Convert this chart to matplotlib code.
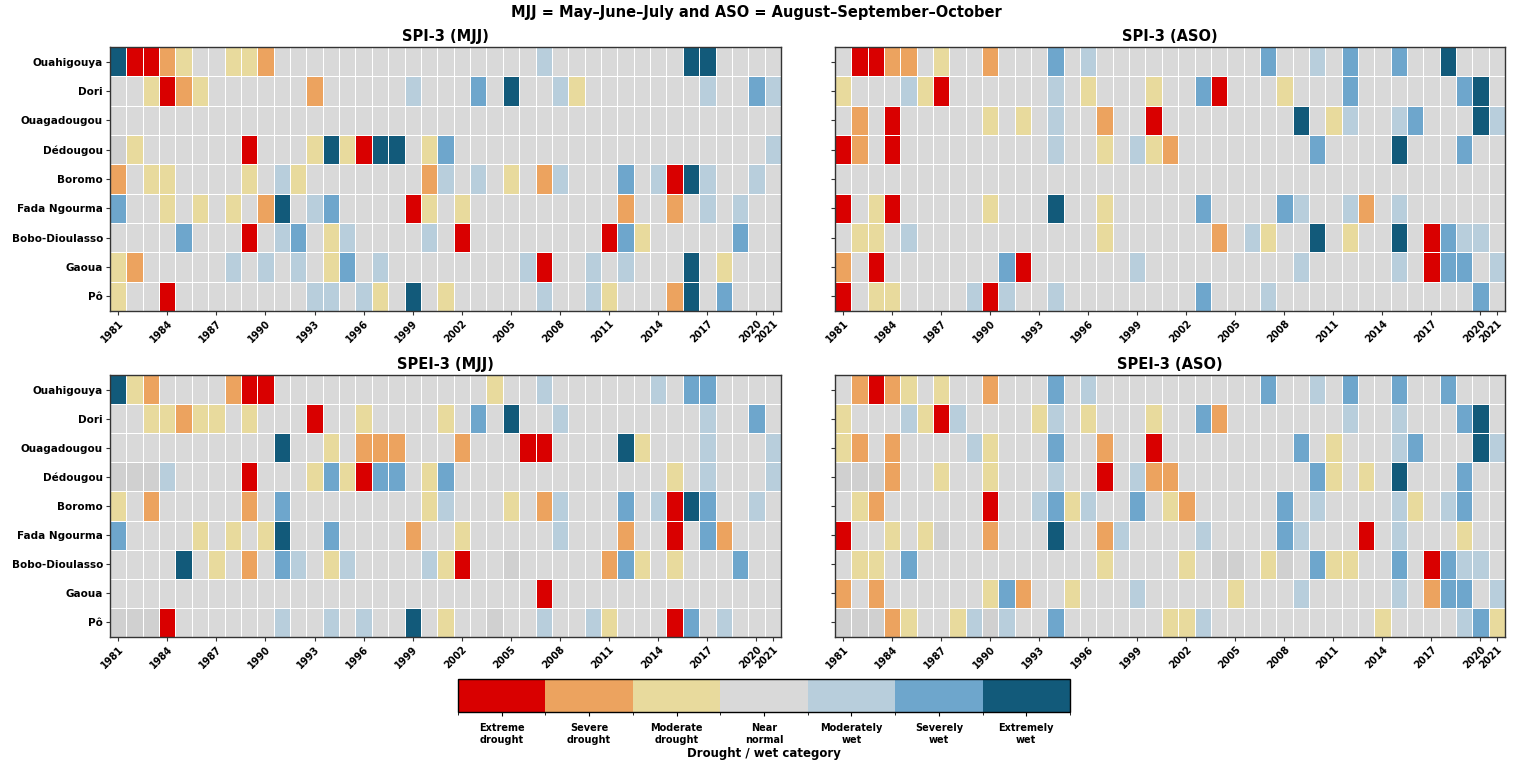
import numpy as np
import matplotlib
matplotlib.use("Agg")
import matplotlib.pyplot as plt
from matplotlib.colors import ListedColormap, BoundaryNorm

# === Data ===
N = np.nan
stations = ["Ouahigouya", "Dori", "Ouagadougou", "Dédougou", "Boromo",
            "Fada Ngourma", "Bobo-Dioulasso", "Gaoua", "Pô"]
years = list(range(1981, 2022))
tick_years = list(range(1981, 2021, 3)) + [2021]

category_labels = ["Extreme\ndrought", "Severe\ndrought", "Moderate\ndrought", "Near\nnormal",
                   "Moderately\nwet", "Severely\nwet", "Extremely\nwet"]
category_colors = ["#d90000", "#eca35f", "#e8da9d", "#d9d9d9", "#b8cedc", "#6ea6cc", "#125a7a"]

# category codes: 0 = extreme drought ... 3 = near normal ... 6 = extremely wet, nan = missing
spi_mjj = [
    [6,0,0,1,2,3,3,2,2,1, 3,3,3,3,3,3,3,3,3,3, 3,3,3,3,3,3,4,3,3,3, 3,3,3,3,3,6,6,3,3,3, 3],
    [3,3,2,0,1,2,3,3,3,3, 3,3,1,3,3,3,3,3,4,3, 3,3,5,3,6,3,3,4,2,3, 3,3,3,3,3,3,4,3,3,5, 4],
    [3,3,3,3,3,3,3,3,3,3, 3,3,3,3,3,3,3,3,3,3, 3,3,3,3,3,3,3,3,3,3, 3,3,3,3,3,3,3,3,3,3, 3],
    [N,2,3,3,3,3,3,3,0,3, 3,3,2,6,2,0,6,6,3,2, 5,3,3,3,3,3,3,3,3,3, 3,3,3,3,3,3,3,3,3,3, 4],
    [1,3,2,2,3,3,3,3,2,3, 4,2,3,3,3,3,3,3,3,1, 4,3,4,3,2,3,1,4,3,3, 3,5,3,4,0,6,4,3,3,4, 3],
    [5,3,3,2,3,2,3,2,3,1, 6,3,4,5,3,3,3,3,0,2, 3,2,3,3,3,3,3,3,3,3, 3,1,3,3,1,3,4,3,4,3, 3],
    [3,3,3,3,5,3,3,3,0,3, 4,5,3,2,4,3,3,3,3,4, 3,0,3,3,3,3,3,3,3,3, 0,5,2,3,3,3,3,3,5,3, 3],
    [2,1,3,3,3,3,3,4,3,4, 3,4,3,2,5,3,4,3,3,3, 3,3,3,3,3,4,0,3,3,4, 3,4,3,3,3,6,3,2,3,3, 3],
    [2,3,3,0,3,3,3,3,3,3, 3,3,4,4,3,4,2,3,6,3, 2,3,3,3,3,3,4,3,3,4, 2,3,3,3,1,6,3,5,3,3, 3],
]
spi_aso = [
    [3,0,0,1,1,3,2,3,3,1, 3,3,3,5,3,4,3,3,3,3, 3,3,3,3,3,3,5,3,3,4, 3,5,3,3,5,3,3,6,3,3, 3],
    [2,3,3,3,4,2,0,3,3,3, 3,3,3,4,3,2,3,3,3,2, 3,3,5,0,3,3,3,2,3,3, 3,5,3,3,3,3,3,3,5,6, 3],
    [3,1,3,0,3,3,3,3,3,2, 3,2,3,4,3,3,1,3,3,0, 3,3,3,3,3,3,3,3,6,3, 2,4,3,3,4,5,3,3,3,6, 4],
    [0,1,3,0,3,3,3,3,3,3, 3,3,3,4,3,3,2,3,4,2, 1,3,3,3,3,3,3,3,3,5, 3,3,3,3,6,3,3,3,5,3, 3],
    [3,3,3,3,3,3,3,3,3,3, 3,3,3,3,3,3,3,3,3,3, 3,3,3,3,3,3,3,3,3,3, 3,3,3,3,3,3,3,3,3,3, 3],
    [0,3,2,0,3,3,3,3,3,2, 3,3,3,6,3,3,2,3,3,3, 3,3,5,3,3,3,3,5,4,3, 3,4,1,3,4,3,3,3,3,3, 3],
    [3,2,2,3,4,3,3,3,3,3, 3,3,3,3,3,3,2,3,3,3, 3,3,3,1,3,4,2,3,3,6, 3,2,3,3,6,3,0,5,4,4, 3],
    [1,3,0,3,3,3,3,3,3,3, 5,0,3,3,3,3,3,3,4,3, 3,3,3,3,3,3,3,3,4,3, 3,3,3,3,4,3,0,5,5,3, 4],
    [0,3,2,2,3,3,3,3,4,0, 4,3,3,4,3,3,3,3,3,3, 3,3,5,3,3,3,4,3,3,3, 3,3,3,3,3,3,3,3,3,5, 3],
]
spei_mjj = [
    [6,2,1,3,3,3,3,1,0,0, 3,3,3,3,3,3,3,3,3,3, 3,3,3,2,3,3,4,3,3,3, 3,3,3,4,3,5,5,3,3,3, 3],
    [3,3,2,2,1,2,2,3,2,3, 3,3,0,3,3,2,3,3,3,3, 2,3,5,3,6,3,3,4,3,3, 3,3,3,3,3,3,4,3,3,5, 3],
    [3,3,3,3,3,3,3,3,3,3, 6,3,3,2,3,1,1,1,3,3, 3,1,3,3,3,0,0,3,3,3, 3,6,2,3,3,3,4,3,3,3, 4],
    [N,N,N,4,3,3,3,3,0,3, 3,3,2,5,2,0,5,5,3,2, 5,3,3,3,3,3,3,3,3,3, 3,3,3,3,2,3,4,3,3,3, 4],
    [2,3,1,3,3,3,3,3,1,3, 5,3,3,3,3,3,3,3,3,2, 4,3,3,3,2,3,1,4,3,3, 3,5,3,4,0,6,5,3,3,4, 3],
    [5,3,3,3,3,2,3,2,3,2, 6,3,3,5,3,3,3,3,1,3, 3,2,3,3,3,3,3,4,3,3, 3,1,3,3,0,3,5,1,3,3, 3],
    [3,3,3,3,6,3,2,3,1,3, 5,4,3,2,4,3,3,3,3,4, 2,0,3,3,N,3,3,3,3,3, 1,5,2,3,2,3,3,3,5,3, 3],
    [3,3,3,3,3,3,3,3,3,3, 3,3,3,3,3,3,3,3,3,3, 3,3,3,3,3,3,0,3,3,3, 3,3,3,3,3,3,3,3,3,3, 3],
    [N,N,N,0,3,3,3,3,3,3, 4,3,3,4,3,4,3,3,6,3, 2,3,3,N,3,3,4,3,3,4, 2,3,3,3,0,5,3,4,3,3, 3],
]
spei_aso = [
    [3,1,0,1,2,3,2,3,3,1, 3,3,3,5,3,4,3,3,3,3, 3,3,3,3,3,3,5,3,3,4, 3,5,3,3,5,3,3,5,3,3, 3],
    [2,3,3,3,4,2,0,4,3,3, 3,3,2,4,3,2,3,3,3,2, 3,3,5,1,3,3,3,3,3,3, 3,4,3,3,4,3,3,3,5,6, 3],
    [2,1,3,1,3,3,3,3,4,2, 3,3,3,5,3,3,1,3,3,0, 3,3,3,3,3,3,3,3,5,3, 2,3,3,3,4,5,3,3,3,6, 4],
    [N,N,N,1,3,3,2,3,3,2, 3,3,3,4,3,3,0,3,4,1, 1,3,3,3,3,3,3,3,3,5, 2,3,2,3,6,3,3,3,5,3, 3],
    [3,2,1,3,3,3,3,3,3,0, 3,3,4,5,2,4,3,3,5,3, 2,1,3,3,3,3,3,5,3,4, 3,3,3,3,4,2,3,4,5,3, 3],
    [0,3,3,2,3,2,N,3,3,1, 3,3,3,6,3,3,1,4,3,3, 3,3,4,3,3,3,3,5,4,3, 3,3,0,3,4,3,3,3,2,3, 3],
    [3,2,2,3,5,3,3,3,3,3, 3,3,3,3,3,3,2,3,3,3, 3,2,3,N,N,3,2,N,3,5, 2,2,3,3,5,3,0,5,4,4, 3],
    [1,3,1,3,3,3,3,3,3,2, 5,1,3,3,2,3,3,3,4,3, 3,3,3,3,2,3,3,3,4,3, 3,3,3,3,4,3,1,5,5,3, 4],
    [N,N,N,1,2,3,3,2,4,N, 4,3,3,5,3,3,3,3,3,3, 2,2,4,3,3,3,3,3,3,3, 3,3,3,2,3,3,3,3,4,5, 2],
]

panels = [("SPI-3 (MJJ)", spi_mjj), ("SPI-3 (ASO)", spi_aso),
          ("SPEI-3 (MJJ)", spei_mjj), ("SPEI-3 (ASO)", spei_aso)]

# === Colormap ===
cmap = ListedColormap(category_colors)
cmap.set_bad("#d0d0d0")
norm = BoundaryNorm(np.arange(-0.5, 7.5, 1), cmap.N)

# === Figure ===
fig = plt.figure(figsize=(15.13, 7.65), dpi=100)
positions = [
    [0.0727, 0.5935, 0.4435, 0.3451],
    [0.5519, 0.5935, 0.4428, 0.3451],
    [0.0727, 0.1673, 0.4435, 0.3425],
    [0.5519, 0.1673, 0.4428, 0.3425],
]

x_edges = np.arange(len(years) + 1) - 0.5
y_edges = np.arange(len(stations) + 1) - 0.5
tick_pos = [years.index(y) for y in tick_years]

mesh = None
for i, (title, data) in enumerate(panels):
    ax = fig.add_axes(positions[i])
    vals = np.ma.masked_invalid(np.array(data, dtype=float))
    mesh = ax.pcolormesh(x_edges, y_edges, vals, cmap=cmap, norm=norm,
                         edgecolors="white", linewidth=0.5)
    ax.set_xlim(-0.5, len(years) - 0.5)
    ax.set_ylim(len(stations) - 0.5, -0.5)
    ax.set_title(title, fontsize=10.5, fontweight="bold", pad=4)
    ax.set_xticks(tick_pos)
    ax.set_xticklabels([str(y) for y in tick_years], rotation=45, ha="right",
                       rotation_mode="anchor", fontsize=7, fontweight="bold")
    ax.set_yticks(range(len(stations)))
    if i % 2 == 0:
        ax.set_yticklabels(stations, fontsize=7.5, fontweight="bold")
    else:
        ax.set_yticklabels([])
    ax.tick_params(length=3, width=0.8, color="#333333", pad=2)
    for s in ax.spines.values():
        s.set_color("#333333")
        s.set_linewidth(1.0)

fig.suptitle("MJJ = May–June–July and ASO = August–September–October",
             fontsize=10.5, fontweight="bold", y=0.993)

# === Colorbar ===
cax = fig.add_axes([0.3027, 0.0693, 0.4045, 0.0431])
cb = fig.colorbar(mesh, cax=cax, orientation="horizontal", ticks=range(7))
cb.ax.set_xticklabels(category_labels, fontsize=7, fontweight="bold")
cb.ax.tick_params(length=3, width=0.8, pad=5)
cb.set_label("Drought / wet category", fontsize=8.5, fontweight="bold", labelpad=2)
cb.outline.set_linewidth(1.0)

fig.savefig("out.png", dpi=100)
